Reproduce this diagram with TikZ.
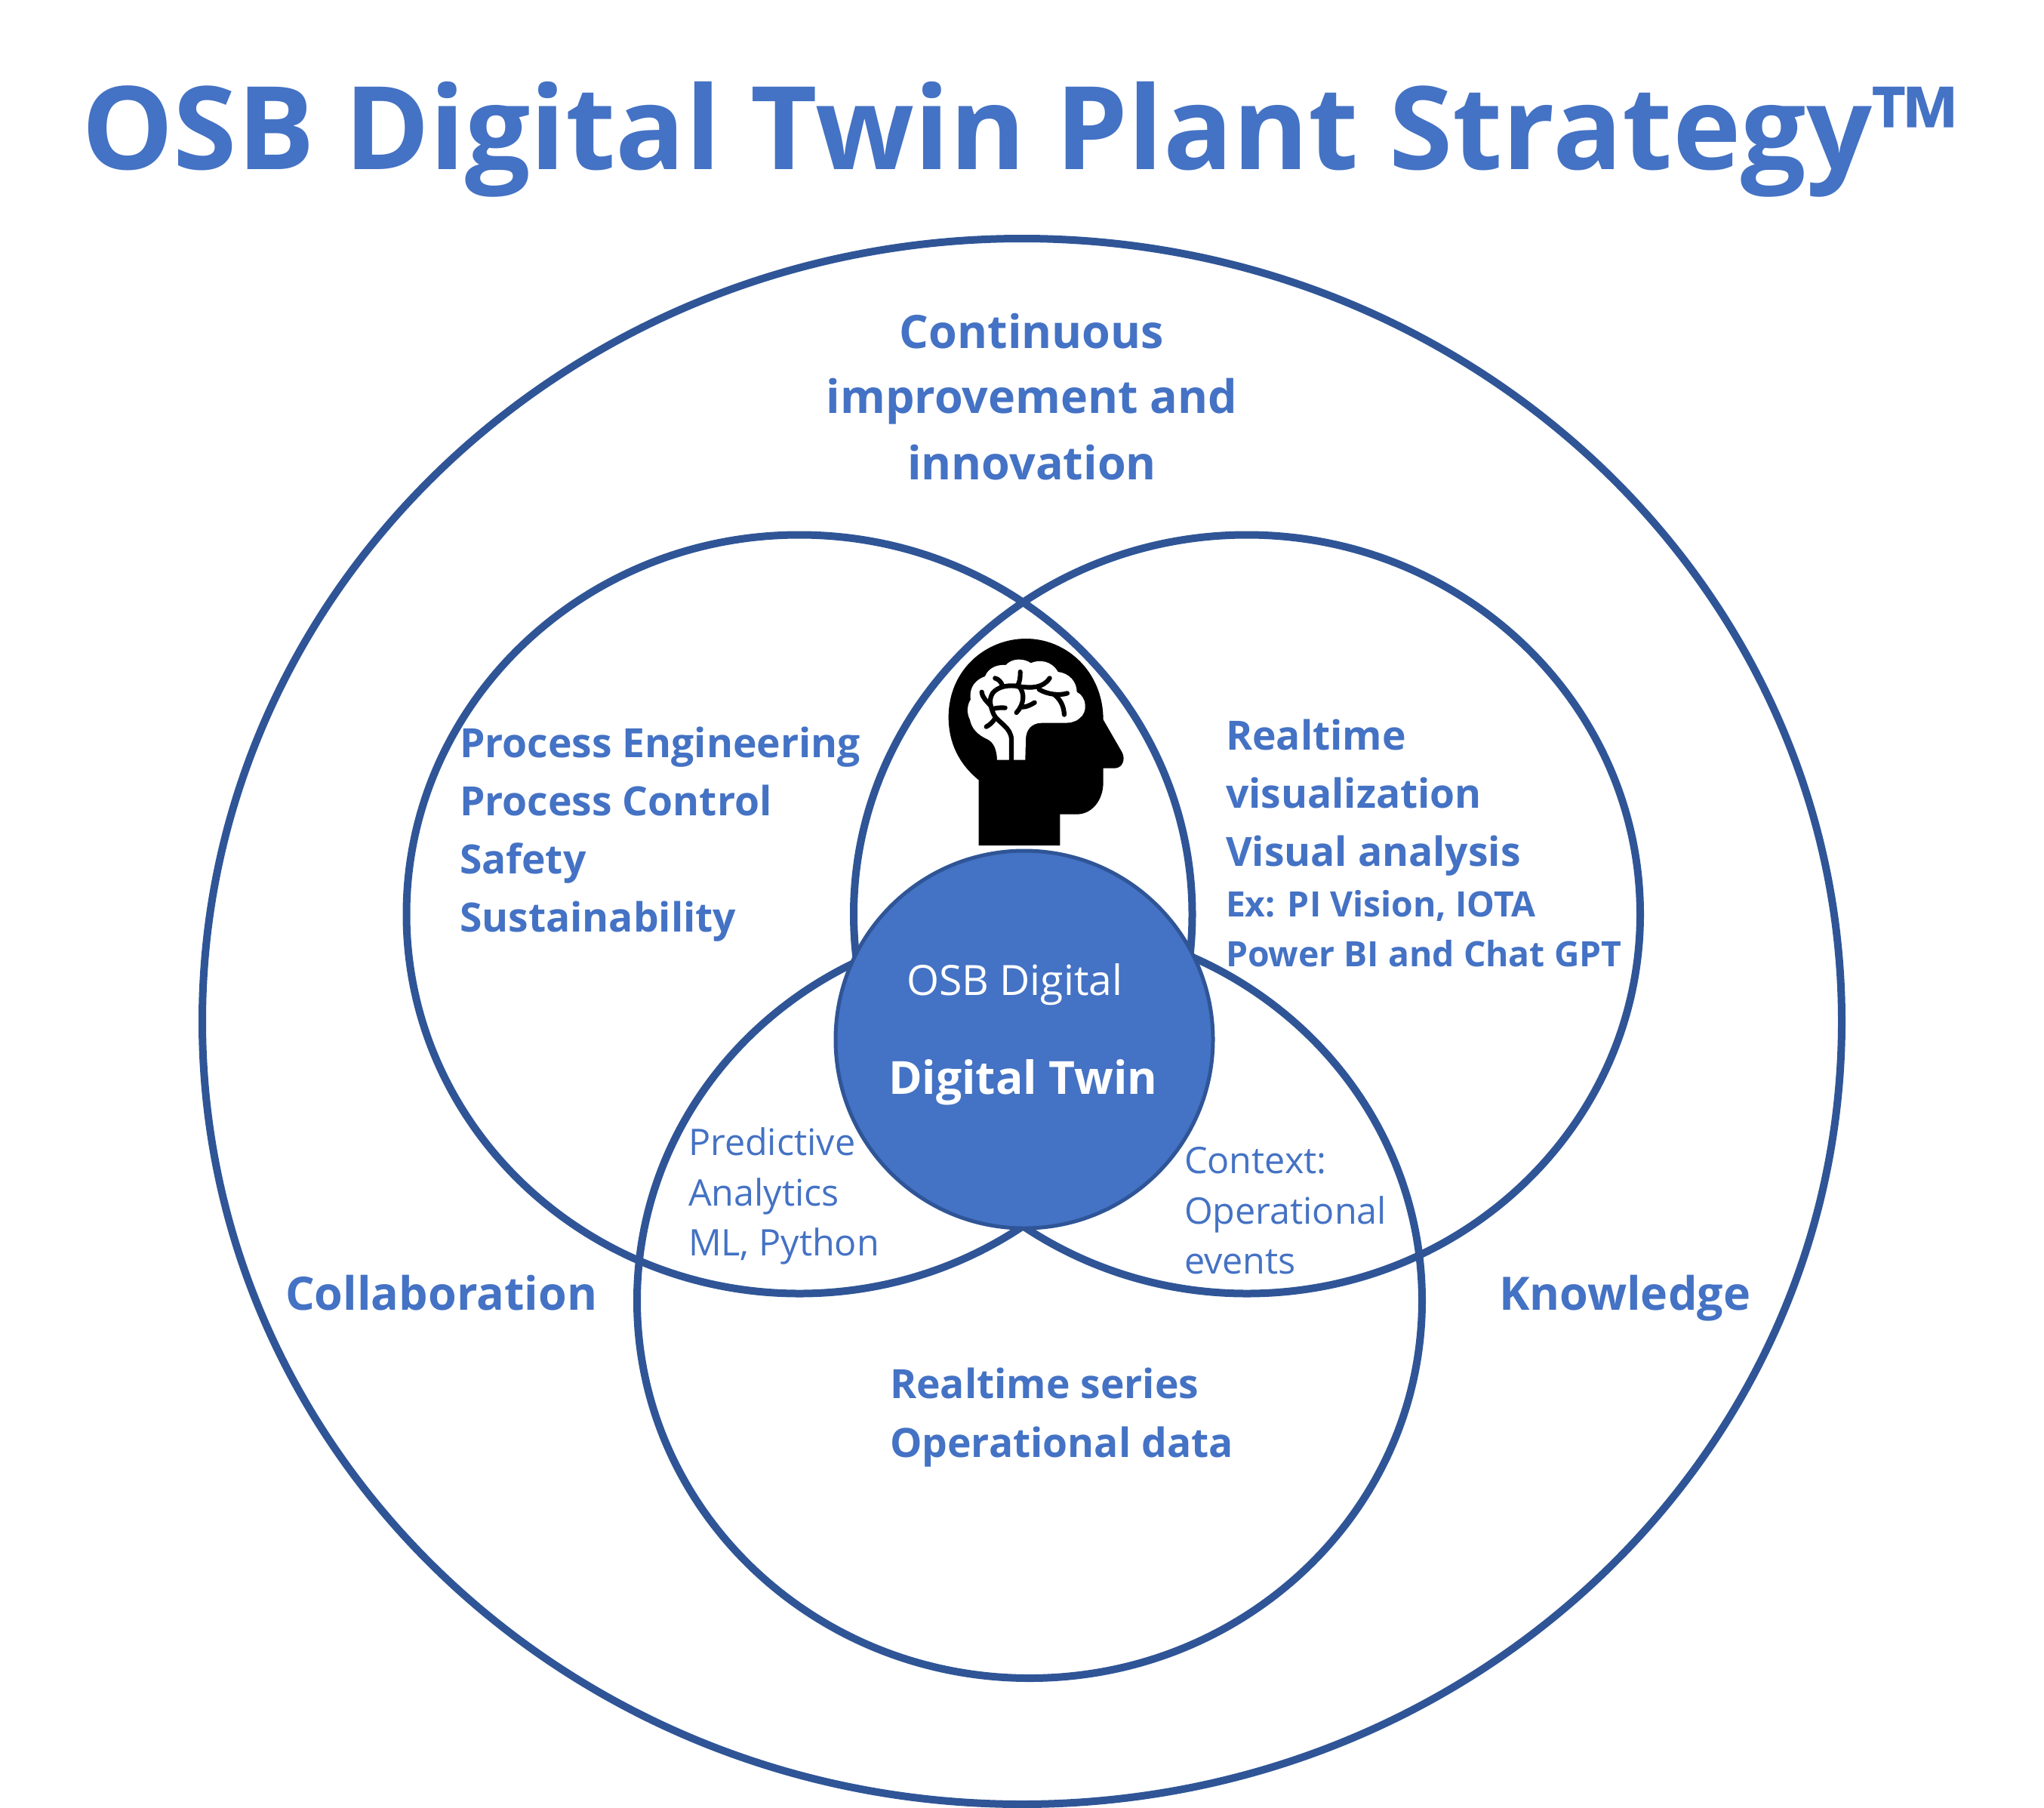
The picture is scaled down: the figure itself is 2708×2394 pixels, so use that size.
\documentclass[tikz,border=0pt]{standalone}
\usepackage{fontspec}
\setmainfont{Open Sans}
\usetikzlibrary{shapes.geometric}
\definecolor{txtblue}{HTML}{4472C4}
\definecolor{ringblue}{HTML}{2F5597}
\newcommand{\fs}[2]{\fontsize{#1}{#2}\selectfont}
\tikzset{
  ring/.style={draw=ringblue,line width=10pt,ellipse,inner sep=0pt,outer sep=0pt,fill=none},
  hub/.style={draw=ringblue,line width=5pt,circle,inner sep=0pt,outer sep=0pt,fill=txtblue},
  lab/.style={anchor=base west,inner sep=0pt,outer sep=0pt,align=left,text=txtblue},
  big/.style={lab,font=\bfseries\fs{53.4}{77}},
  mid/.style={lab,font=\bfseries\fs{46.3}{66}},
  small/.style={lab,font=\fs{48.5}{66}},
  hl/.style={lab,anchor=base,align=center,font=\bfseries\fs{61}{88}},
  side/.style={lab,font=\bfseries\fs{61}{77}},
}
\begin{document}
\begin{tikzpicture}[x=1pt,y=-1pt]
\useasboundingbox[fill=white] (0,0) rectangle (2708,2394);
\node[ring,minimum width=2172pt,minimum height=2074pt] (outer) at (1354,1353) {};
\node[ring,minimum width=1041pt,minimum height=1005pt] (left) at (1059,1211) {};
\node[ring,minimum width=1042pt,minimum height=1005pt] (right) at (1652,1211) {};
\node[ring,minimum width=1040pt,minimum height=1000pt] (bottom) at (1364,1723) {};
\node[hub,minimum size=500pt] (hub) at (1357,1377) {};
% head icon
\begin{scope}[shift={(1200,820)},x=0.3333pt,y=-0.3333pt]
\fill[black] (290,900) -- (290,640) .. controls (210,575) and (170,490) .. (170,390)
  .. controls (170,200) and (320,78) .. (478,78)
  .. controls (640,78) and (785,210) .. (785,400)
  -- (860,530) .. controls (875,560) and (860,593) .. (830,593)
  -- (785,593) -- (785,650) .. controls (785,720) and (740,776) .. (680,776)
  -- (613,776) -- (613,900) -- cycle;
\fill[white] (363,560) .. controls (362,520) and (350,490) .. (325,478)
  .. controls (285,460) and (262,435) .. (255,400)
  .. controls (240,370) and (245,340) .. (258,320)
  .. controls (250,270) and (280,240) .. (315,228)
  .. controls (330,190) and (370,180) .. (398,183)
  .. controls (420,155) and (470,155) .. (497,175)
  .. controls (530,160) and (580,165) .. (605,210)
  .. controls (650,215) and (680,250) .. (680,290)
  .. controls (720,310) and (725,370) .. (690,395)
  .. controls (670,412) and (650,413) .. (620,413)
  -- (540,413) .. controls (500,413) and (477,440) .. (477,480)
  -- (475,560) -- cycle;
\draw[black,line width=6.2pt,line cap=round]
  (420,562) -- (420,480) .. controls (420,430) and (365,410) .. (350,380)
  .. controls (335,345) and (330,320) .. (345,295)
  .. controls (365,268) and (410,260) .. (450,268)
  .. controls (500,275) and (545,275) .. (572,235);
\draw[black,line width=6.2pt,line cap=round] (442,268) .. controls (455,250) and (455,230) .. (455,210);
\draw[black,line width=6.2pt,line cap=round] (385,268) .. controls (380,250) and (370,240) .. (355,235);
\draw[black,line width=6.2pt,line cap=round] (530,280) .. controls (565,300) and (610,305) .. (642,295);
\draw[black,line width=6.2pt,line cap=round] (590,300) .. controls (615,320) and (628,345) .. (630,380);
\draw[black,line width=6.2pt,line cap=round] (450,268) .. controls (475,295) and (470,340) .. (440,372);
\draw[black,line width=6.2pt,line cap=round] (462,350) .. controls (480,350) and (495,342) .. (512,332);
\draw[black,line width=6.2pt,line cap=round] (338,345) .. controls (325,330) and (305,315) .. (302,290);
\draw[black,line width=6.2pt,line cap=round] (345,358) .. controls (360,352) and (380,352) .. (395,353);
\draw[black,line width=6.2pt,line cap=round] (355,395) .. controls (345,410) and (335,420) .. (320,428);
\end{scope}
% texts
\node[lab,font=\bfseries\fs{153}{153}] (title) at (108,224) {OSB Digital Twin Plant Strategy™};
\node[hl] (ci1) at (1367,461) {Continuous};
\node[hl] (ci2) at (1367,547) {improvement and};
\node[hl] (ci3) at (1367,635) {innovation};
\node[big] (pe) at (609,1003) {Process Engineering};
\node[big] (pc) at (609,1080) {Process Control};
\node[big] (sf) at (609,1157) {Safety};
\node[big] (su) at (609,1234) {Sustainability};
\node[big] (rt) at (1624,993) {Realtime};
\node[big] (vz) at (1624,1070) {visualization};
\node[big] (va) at (1624,1147) {Visual analysis};
\node[mid] (ex) at (1624,1214) {Ex: PI Vision, IOTA};
\node[mid] (pb) at (1624,1280) {Power BI and Chat GPT};
\node[small] (pa1) at (912,1530) {Predictive};
\node[small] (pa2) at (912,1597) {Analytics};
\node[small] (pa3) at (912,1663) {ML, Python};
\node[small] (co1) at (1569,1554) {Context:};
\node[small] (co2) at (1569,1621) {Operational};
\node[small] (co3) at (1569,1687) {events};
\node[big] (rs) at (1179,1852) {Realtime series};
\node[big] (od) at (1179,1930) {Operational data};
\node[side] (col) at (378,1735) {Collaboration};
\node[side] (kn) at (1986,1735) {Knowledge};
\node[lab,text=white,font=\fs{55.3}{60}] (osb) at (1201,1318) {OSB Digital};
\node[lab,text=white,font=\bfseries\fs{60.5}{70}] (dt) at (1177,1449) {Digital Twin};
\end{tikzpicture}
\end{document}
